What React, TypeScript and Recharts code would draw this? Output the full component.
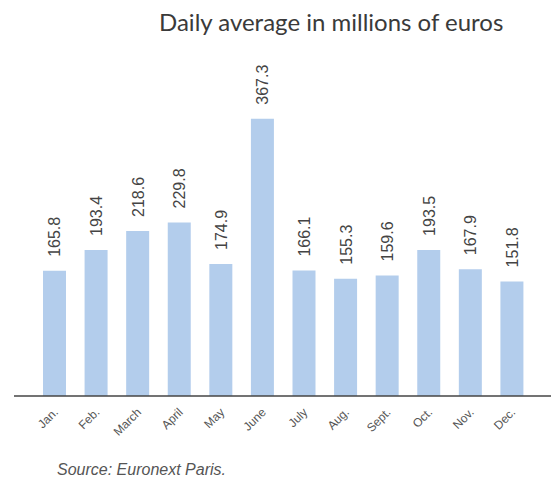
import { Bar, BarChart, LabelList, XAxis, YAxis } from 'recharts';

const months = ['Jan.', 'Feb.', 'March', 'April', 'May', 'June', 'July', 'Aug.', 'Sept.', 'Oct.', 'Nov.', 'Dec.'];
const dailyAverage = [165.8, 193.4, 218.6, 229.8, 174.9, 367.3, 166.1, 155.3, 159.6, 193.5, 167.9, 151.8];

const data = months.map((m, i) => ({ month: m, value: dailyAverage[i] }));

const font = '"Liberation Sans", Arial, sans-serif';

function MonthTick(props: any) {
  const { x, y, payload } = props;
  return (
    <text
      x={x + 4}
      y={y + 9}
      transform={`rotate(-45, ${x + 4}, ${y + 9})`}
      textAnchor="end"
      fontSize={12}
      fontFamily={font}
      fill="#555"
    >
      {payload.value}
    </text>
  );
}

function ValueLabel(props: any) {
  const { x, y, width, value } = props;
  const cx = x + width / 2 + 6;
  const cy = y - 14;
  return (
    <text
      x={cx}
      y={cy}
      transform={`rotate(-90, ${cx}, ${cy})`}
      textAnchor="start"
      fontSize={16}
      fontFamily={font}
      fill="#444"
    >
      {value.toFixed(1)}
    </text>
  );
}

export default function App() {
  return (
    <div style={{ position: 'absolute', left: 0, top: 0, width: 551, height: 479, background: '#fff' }}>
      <div
        style={{
          position: 'absolute',
          top: 7,
          left: 159,
          fontFamily: 'Lato, sans-serif',
          fontSize: 24,
          lineHeight: '30px',
          color: '#3a3a3a',
          whiteSpace: 'nowrap',
        }}
      >
        Daily average in millions of euros
      </div>
      <BarChart
        width={551}
        height={479}
        data={data}
        margin={{ top: 94, right: 0, bottom: 0, left: 14 }}
        barSize={23}
      >
        <XAxis
          dataKey="month"
          interval={0}
          height={83}
          tickLine={false}
          axisLine={{ stroke: '#444', strokeWidth: 1.5 }}
          padding={{ left: 20, right: 18 }}
          tick={<MonthTick />}
        />
        <YAxis hide domain={[0, 400]} />
        <Bar dataKey="value" fill="#b3cdec" isAnimationActive={false}>
          <LabelList dataKey="value" content={<ValueLabel />} />
        </Bar>
      </BarChart>
      <div
        style={{
          position: 'absolute',
          top: 461,
          left: 57,
          fontFamily: font,
          fontStyle: 'italic',
          fontSize: 16,
          lineHeight: '18px',
          color: '#555',
          whiteSpace: 'nowrap',
        }}
      >
        Source: Euronext Paris.
      </div>
    </div>
  );
}
